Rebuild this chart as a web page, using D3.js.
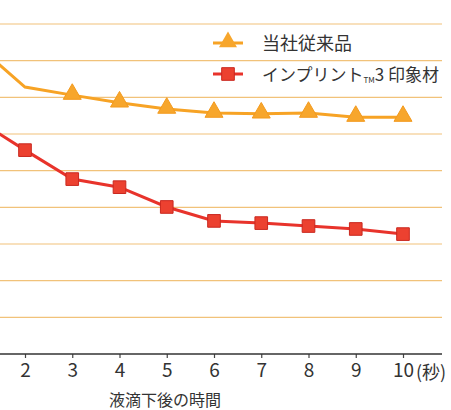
<!DOCTYPE html>
<html lang="ja">
<head>
<meta charset="UTF-8">
<title>液滴下後の時間</title>
<script src="https://d3js.org/d3.v7.min.js"></script>
<style>
  body { margin: 0; background: #fff; }
  text { font-family: "Noto Sans CJK JP", "Noto Sans", sans-serif; fill: #333; }
</style>
</head>
<body>
<svg></svg>
<script>
    // data (y in gridline units, axis = 0)
    const times = [1, 2, 3, 4, 5, 6, 7, 8, 9, 10];
    const conventional = [8.4, 7.28, 7.06, 6.85, 6.68, 6.57, 6.55, 6.57, 6.46, 6.46];
    const imprint3 = [6.38, 5.56, 4.77, 4.55, 4.01, 3.63, 3.57, 3.49, 3.41, 3.27];
    const conventionalMarked = [3, 4, 5, 6, 7, 8, 9, 10];
    const imprint3Marked = [2, 3, 4, 5, 6, 7, 8, 9, 10];
    const tickLabels = [2, 3, 4, 5, 6, 7, 8, 9, 10];
    const gridValues = [1, 2, 3, 4, 5, 6, 7, 8, 9];
    const legendNames = ["当社従来品", "インプリント", "3 印象材"];

    const width = 451;
    const height = 410;

    const svg = d3.select("svg")
        .attr("width", width)
        .attr("height", height);

    const x = d3.scaleLinear().domain([2, 10]).range([25, 403]);
    const y = d3.scaleLinear().domain([0, 9]).range([354, 24]);

    // gridlines
    svg.append("g")
        .selectAll("line")
        .data(gridValues)
        .join("line")
          .attr("x1", 0)
          .attr("x2", 442)
          .attr("y1", d => y(d))
          .attr("y2", d => y(d))
          .attr("stroke", "#f1c27a")
          .attr("stroke-width", 1.2);

    // x axis
    const xAxis = d3.axisBottom(x)
        .tickValues(tickLabels)
        .tickSize(4)
        .tickPadding(6)
        .tickFormat(d => d);

    const gx = svg.append("g")
        .attr("transform", `translate(0,${y(0)})`)
        .call(xAxis);
    gx.select(".domain").remove();
    gx.selectAll(".tick line").attr("stroke", "#444").attr("stroke-width", 1.2);
    gx.selectAll(".tick text")
        .attr("font-size", 19)
        .attr("fill", "#3a3a3a")
        .attr("font-family", "'Liberation Sans', sans-serif")
        .attr("dy", "0.71em");

    svg.append("line")
        .attr("x1", 0)
        .attr("x2", 442)
        .attr("y1", y(0))
        .attr("y2", y(0))
        .attr("stroke", "#333")
        .attr("stroke-width", 1.6);

    svg.append("text")
        .attr("x", x(10) + 13)
        .attr("y", 379)
        .attr("font-size", 18)
        .text("(秒)");

    svg.append("text")
        .attr("x", 165)
        .attr("y", 406)
        .attr("text-anchor", "middle")
        .attr("font-size", 16)
        .text("液滴下後の時間");

    // lines
    svg.append("clipPath").attr("id", "plot")
      .append("rect").attr("x", 0).attr("y", 0).attr("width", width).attr("height", height);

    const line = d3.line()
        .x((d, i) => x(times[i]))
        .y(d => y(d));

    const g = svg.append("g").attr("clip-path", "url(#plot)");

    g.append("path")
        .datum(conventional)
        .attr("fill", "none")
        .attr("stroke", "#f7a325")
        .attr("stroke-width", 3)
        .attr("d", line);

    g.append("path")
        .datum(imprint3)
        .attr("fill", "none")
        .attr("stroke", "#e8332b")
        .attr("stroke-width", 3)
        .attr("d", line);

    const tri = d3.symbol().type(d3.symbolTriangle).size(140);
    const sq = d3.symbol().type(d3.symbolSquare).size(160);

    g.selectAll(".tri")
        .data(conventionalMarked)
        .join("path")
          .attr("class", "tri")
          .attr("transform", t => `translate(${x(t)},${y(conventional[times.indexOf(t)]) - 1})`)
          .attr("d", tri)
          .attr("fill", "#f7a62c")
          .attr("stroke", "#f39a1e")
          .attr("stroke-width", 1);

    g.selectAll(".sq")
        .data(imprint3Marked)
        .join("path")
          .attr("class", "sq")
          .attr("transform", t => `translate(${x(t)},${y(imprint3[times.indexOf(t)])})`)
          .attr("d", sq)
          .attr("fill", "#ec4130")
          .attr("stroke", "#c9281f")
          .attr("stroke-width", 1);

    // legend
    const legend = svg.append("g");

    legend.append("line")
        .attr("x1", 213).attr("x2", 243).attr("y1", 43).attr("y2", 43)
        .attr("stroke", "#f7a325").attr("stroke-width", 3);
    legend.append("path")
        .attr("transform", "translate(228,42)")
        .attr("d", tri)
        .attr("fill", "#f7a62c");
    legend.append("text")
        .attr("x", 262).attr("y", 50)
        .attr("font-size", 18)
        .text(legendNames[0]);

    legend.append("line")
        .attr("x1", 213).attr("x2", 243).attr("y1", 74).attr("y2", 74)
        .attr("stroke", "#e8332b").attr("stroke-width", 3);
    legend.append("path")
        .attr("transform", "translate(228,74)")
        .attr("d", sq)
        .attr("fill", "#ec4130")
        .attr("stroke", "#c9281f");
    const t2 = legend.append("text")
        .attr("x", 262).attr("y", 81)
        .attr("font-size", 17);
    t2.append("tspan").text(legendNames[1]);
    t2.append("tspan").attr("font-size", 8).attr("dy", 2).text("TM");
    t2.append("tspan").attr("dy", -2).text(legendNames[2]);
</script>
</body>
</html>
